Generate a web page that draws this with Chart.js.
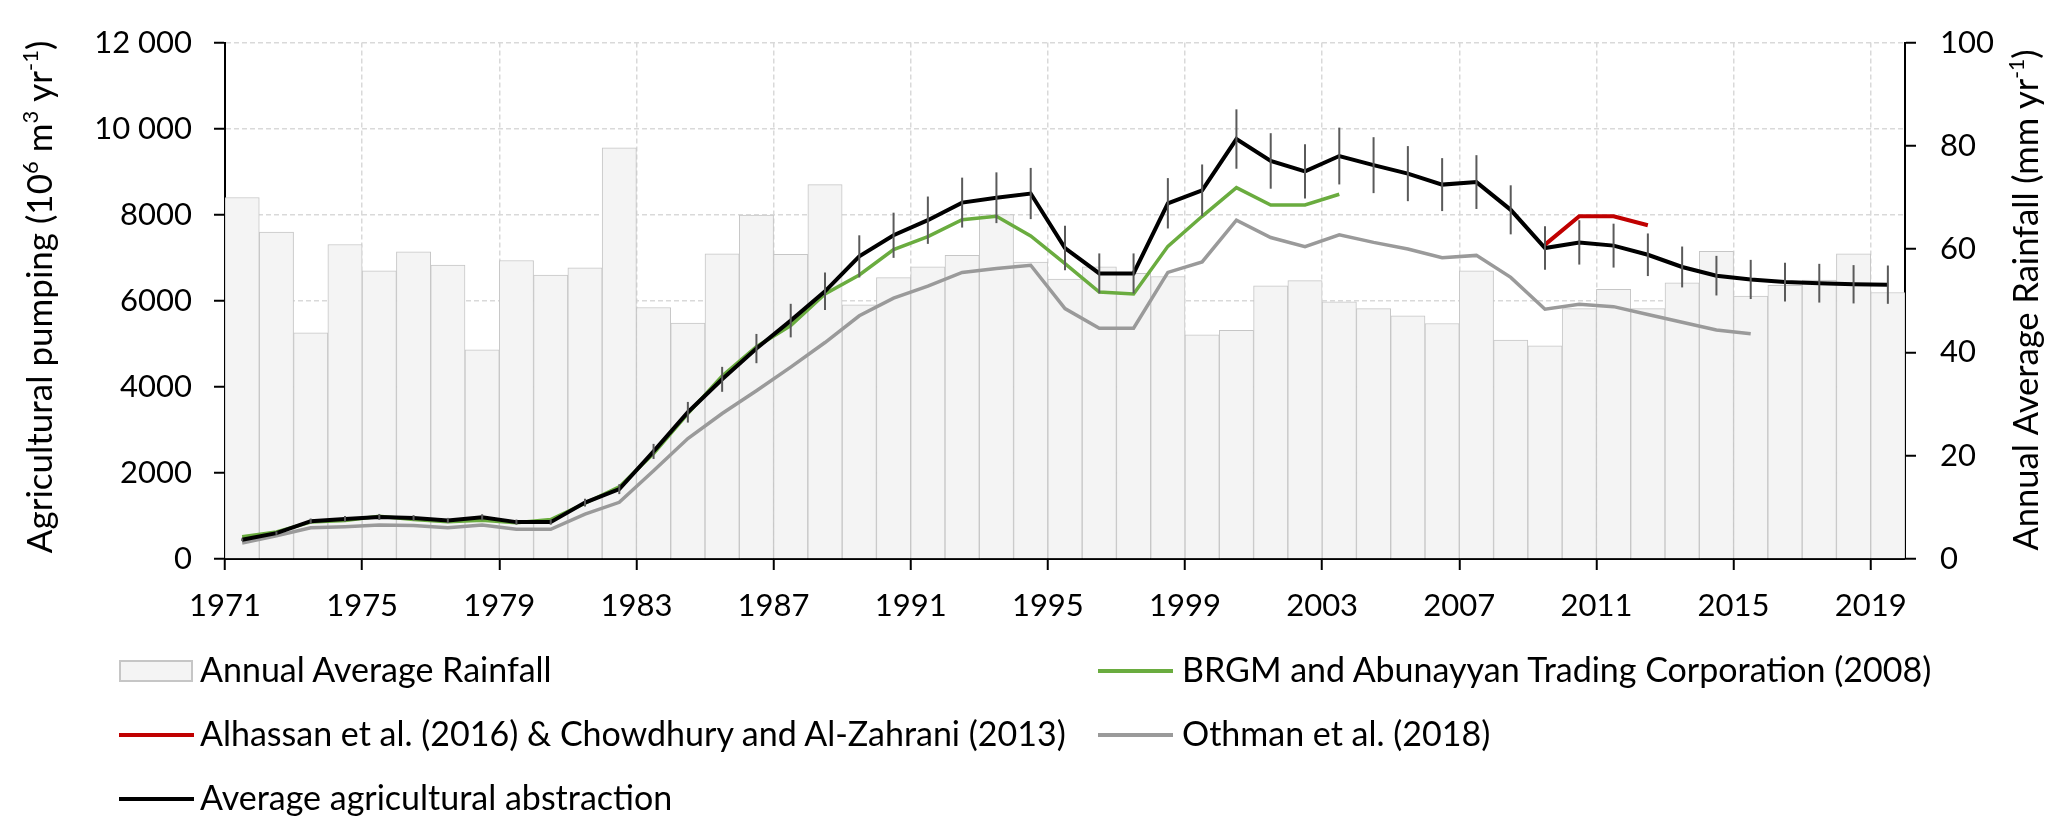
<!DOCTYPE html>
<html><head><meta charset="utf-8">
<script src="https://cdn.jsdelivr.net/npm/chart.js@4.4.1/dist/chart.umd.min.js"></script>
<style>
html,body{margin:0;padding:0;background:#fff;}
#wrap{position:relative;width:2067px;height:835px;overflow:hidden;background:#fff;}
#c{position:absolute;left:0;top:0;}
.lgt{position:absolute;font-family:Lato,sans-serif;font-size:34px;line-height:40px;color:#000;white-space:nowrap;}
.sw{position:absolute;box-sizing:border-box;}
</style></head><body>
<div id="wrap"><canvas id="c" width="2067" height="835"></canvas><div id="legend"></div></div>
<script>
// ---- data ----
const years = [1971,1972,1973,1974,1975,1976,1977,1978,1979,1980,1981,1982,1983,1984,1985,1986,1987,1988,1989,1990,1991,1992,1993,1994,1995,1996,1997,1998,1999,2000,2001,2002,2003,2004,2005,2006,2007,2008,2009,2010,2011,2012,2013,2014,2015,2016,2017,2018,2019];
const rainfall = [70.0,63.3,43.8,60.9,55.8,59.5,56.9,40.5,57.8,55.0,56.4,79.6,48.7,45.7,59.1,66.6,59.0,72.5,49.2,54.5,56.6,58.8,66.7,57.5,54.2,56.6,55.3,54.7,43.4,44.3,52.9,53.9,49.8,48.5,47.1,45.6,55.8,42.4,41.3,48.5,52.2,48.5,53.5,59.6,50.9,53.0,54.0,59.1,51.6];
const avgAbstraction = [448,600,880,932,977,955,895,970,857,857,1311,1623,2500,3410,4175,4890,5540,6220,7032,7523,7873,8282,8395,8493,7227,6636,6636,8266,8568,9759,9250,9009,9364,9152,8955,8700,8759,8114,7227,7357,7282,7070,6786,6584,6496,6436,6409,6384,6375];
const avgError = [30,40,60,65,70,65,60,70,60,60,90,115,175,240,290,340,390,435,490,525,550,580,590,595,515,465,465,585,600,690,645,630,660,650,640,615,625,570,505,515,510,495,475,460,455,450,450,445,445];
const brgmYears = [1971,1972,1973,1974,1975,1976,1977,1978,1979,1980,1981,1982,1983,1984,1985,1986,1987,1988,1989,1990,1991,1992,1993,1994,1995,1996,1997,1998,1999,2000,2001,2002,2003];
const brgm = [516,630,857,895,993,918,864,902,841,918,1295,1675,2450,3380,4250,4932,5425,6160,6600,7190,7490,7886,7964,7509,6864,6205,6159,7266,7964,8630,8227,8227,8477];
const alhassanYears = [2009,2010,2011,2012];
const alhassan = [7305,7964,7964,7757];
const othmanYears = [1971,1972,1973,1974,1975,1976,1977,1978,1979,1980,1981,1982,1983,1984,1985,1986,1987,1988,1989,1990,1991,1992,1993,1994,1995,1996,1997,1998,1999,2000,2001,2002,2003,2004,2005,2006,2007,2008,2009,2010,2011,2012,2013,2014,2015];
const othman = [372,539,727,750,788,781,727,788,690,690,1045,1318,2050,2800,3380,3909,4460,5030,5652,6060,6340,6659,6750,6827,5818,5364,5364,6659,6902,7873,7470,7259,7532,7357,7205,7000,7055,6545,5805,5918,5864,5680,5500,5322,5234];
const xTickLabels = [1971,1975,1979,1983,1987,1991,1995,1999,2003,2007,2011,2015,2019];
const leftTicks = [0,2000,4000,6000,8000,10000,12000];
const rightTicks = [0,20,40,60,80,100];
const seriesNames = {
  rain: 'Annual Average Rainfall',
  brgm: 'BRGM and Abunayyan Trading Corporation (2008)',
  alhassan: 'Alhassan et al. (2016) & Chowdhury and Al-Zahrani (2013)',
  othman: 'Othman et al. (2018)',
  avg: 'Average agricultural abstraction'
};

// ---- helpers ----
const pts = (ys, vs) => ys.map((yr, i) => ({x: yr + 0.5, y: vs[i]}));
const FONT = 'Lato, sans-serif';
const fmtLeft = v => v >= 10000 ? String(v).replace(/\B(?=(\d{3})+(?!\d))/g, ' ') : String(v);

const errPlugin = {
  id: 'errbars',
  afterDatasetsDraw(chart) {
    const {ctx, scales: {x, y}} = chart;
    ctx.save();
    ctx.strokeStyle = '#5a5a5a';
    ctx.lineWidth = 2;
    years.forEach((yr, i) => {
      const px = x.getPixelForValue(yr + 0.5);
      ctx.beginPath();
      ctx.moveTo(px, y.getPixelForValue(avgAbstraction[i] + avgError[i]));
      ctx.lineTo(px, y.getPixelForValue(avgAbstraction[i] - avgError[i]));
      ctx.stroke();
    });
    ctx.restore();
  }
};

function drawRich(ctx, parts, x, y, size) {
  ctx.save();
  ctx.translate(x, y);
  ctx.rotate(-Math.PI / 2);
  ctx.fillStyle = '#000';
  ctx.textBaseline = 'alphabetic';
  let total = 0;
  parts.forEach(p => { ctx.font = (p.sup ? Math.round(size * 0.62) : size) + 'px ' + FONT; p.w = ctx.measureText(p.t).width; total += p.w; });
  let cx = -total / 2;
  parts.forEach(p => { ctx.font = (p.sup ? Math.round(size * 0.62) : size) + 'px ' + FONT; ctx.fillText(p.t, cx, p.sup ? -size * 0.4 : 0); cx += p.w; });
  ctx.restore();
}
const titlePlugin = {
  id: 'titles',
  afterDraw(chart) {
    const ctx = chart.ctx;
    drawRich(ctx, [{t: 'Agricultural pumping (10'}, {t: '6', sup: true}, {t: ' m'}, {t: '3', sup: true}, {t: ' yr'}, {t: '-1', sup: true}, {t: ')'}], 52, 297, 35);
    drawRich(ctx, [{t: 'Annual Average Rainfall (mm yr'}, {t: '-1', sup: true}, {t: ')'}], 2038, 300, 34.5);
  }
};

const gridStyle = {color: '#d9d9d9', lineWidth: 1.5, tickColor: '#000', tickWidth: 2, tickLength: 11};
const borderStyle = {color: '#000', width: 2, dash: [5, 3]};

new Chart(document.getElementById('c'), {
  type: 'bar',
  data: {
    datasets: [
      {type: 'line', label: seriesNames.avg, data: pts(years, avgAbstraction), yAxisID: 'y', borderColor: '#000', borderWidth: 4, pointRadius: 0, order: 0},
      {type: 'line', label: seriesNames.alhassan, data: pts(alhassanYears, alhassan), yAxisID: 'y', borderColor: '#c00000', borderWidth: 4, pointRadius: 0, order: 1},
      {type: 'line', label: seriesNames.brgm, data: pts(brgmYears, brgm), yAxisID: 'y', borderColor: '#6aac3f', borderWidth: 3.5, pointRadius: 0, order: 2},
      {type: 'line', label: seriesNames.othman, data: pts(othmanYears, othman), yAxisID: 'y', borderColor: '#9a9a9a', borderWidth: 3.5, pointRadius: 0, order: 3},
      {type: 'bar', label: seriesNames.rain, data: pts(years, rainfall), yAxisID: 'y2', backgroundColor: '#f4f4f4', borderColor: '#c6c6c6', borderWidth: 1, barPercentage: 1, categoryPercentage: 1, grouped: false, order: 10}
    ]
  },
  options: {
    responsive: false,
    animation: false,
    devicePixelRatio: 1,
    layout: {padding: {top: 31, bottom: 0, left: 0, right: 0}},
    plugins: {legend: {display: false}, tooltip: {enabled: false}},
    scales: {
      x: {
        type: 'linear', min: 1971, max: 2020, offset: false,
        grid: Object.assign({offset: false}, gridStyle),
        border: borderStyle,
        afterBuildTicks: s => { s.ticks = xTickLabels.map(v => ({value: v})); },
        afterFit: s => { s.height = 276; },
        ticks: {color: '#000', font: {family: FONT, size: 31}, padding: 17, maxRotation: 0, autoSkip: false, callback: v => String(v)}
      },
      y: {
        type: 'linear', position: 'left', min: 0, max: 12000,
        grid: gridStyle,
        border: borderStyle,
        afterBuildTicks: s => { s.ticks = leftTicks.map(v => ({value: v})); },
        afterFit: s => { s.width = 225; },
        ticks: {color: '#000', font: {family: FONT, size: 31}, padding: 22, callback: v => fmtLeft(v)}
      },
      y2: {
        type: 'linear', position: 'right', min: 0, max: 100,
        grid: Object.assign({}, gridStyle, {drawOnChartArea: false}),
        border: {color: '#000', width: 2},
        afterBuildTicks: s => { s.ticks = rightTicks.map(v => ({value: v})); },
        afterFit: s => { s.width = 162; },
        ticks: {color: '#000', font: {family: FONT, size: 31}, padding: 24, callback: v => String(v)}
      }
    }
  },
  plugins: [errPlugin, titlePlugin]
});

// ---- legend (HTML) ----
const legendLayout = [
  {key: 'rain', kind: 'box', color: '#c6c6c6', sx: 119, tx: 200, cy: 671},
  {key: 'brgm', kind: 'line', color: '#6aac3f', sx: 1098, tx: 1182, cy: 671},
  {key: 'alhassan', kind: 'line', color: '#c00000', sx: 119, tx: 200, cy: 735},
  {key: 'othman', kind: 'line', color: '#9a9a9a', sx: 1098, tx: 1182, cy: 735},
  {key: 'avg', kind: 'line', color: '#000000', sx: 119, tx: 200, cy: 799}
];
const lg = document.getElementById('legend');
legendLayout.forEach(it => {
  const sw = document.createElement('div');
  sw.className = 'sw';
  if (it.kind === 'box') {
    sw.style.cssText = `left:${it.sx}px;top:${it.cy - 11}px;width:74px;height:22px;background:#f4f4f4;border:2px solid ${it.color};`;
  } else {
    sw.style.cssText = `left:${it.sx}px;top:${it.cy - 2}px;width:75px;height:4px;background:${it.color};`;
  }
  lg.appendChild(sw);
  const t = document.createElement('div');
  t.className = 'lgt';
  t.style.left = it.tx + 'px';
  t.style.top = (it.cy - 22) + 'px';
  t.textContent = seriesNames[it.key];
  lg.appendChild(t);
});
</script>
</body></html>
